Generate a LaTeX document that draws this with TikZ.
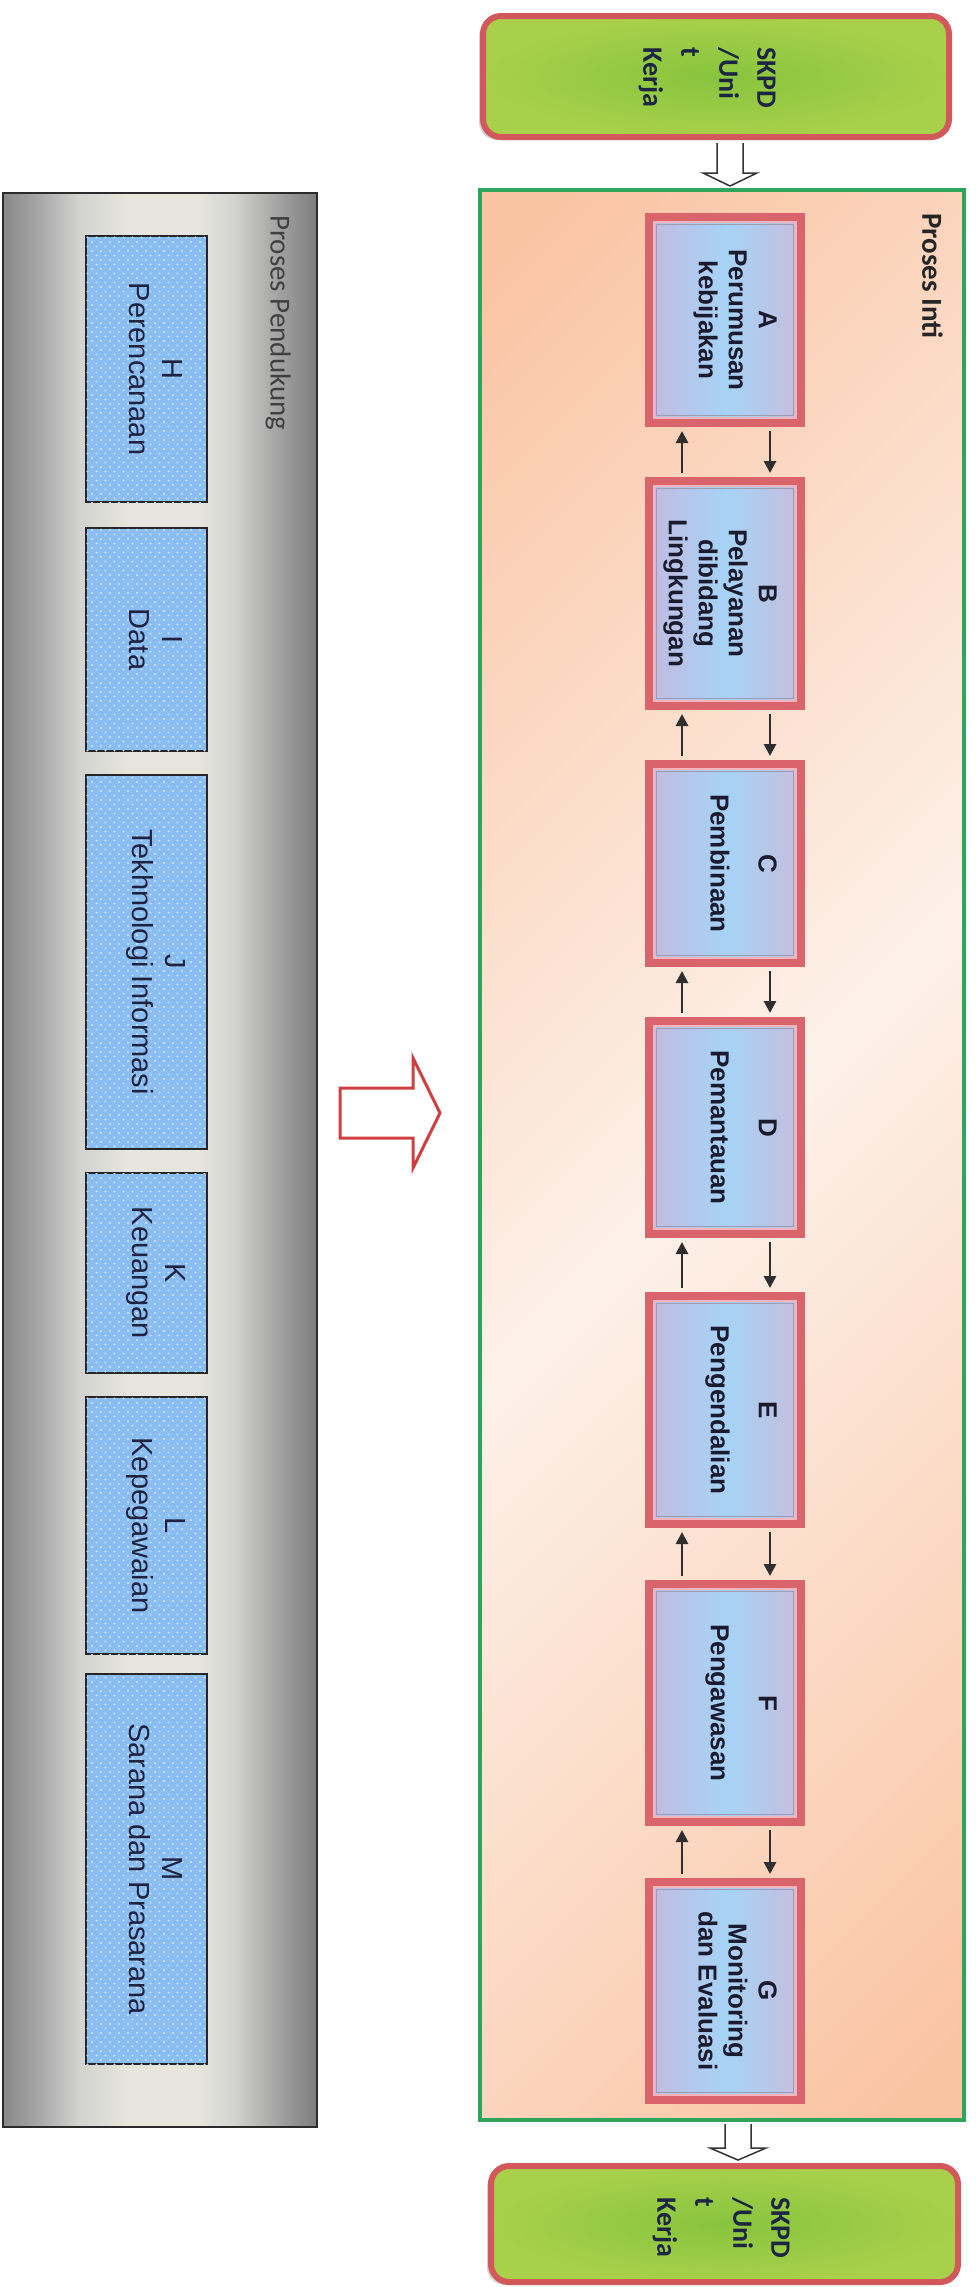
\documentclass[tikz,border=0pt]{standalone}
\usepackage{fontspec}
\setmainfont{Liberation Sans}
\newfontfamily\carlito{Carlito}
\usetikzlibrary{arrows.meta,calc,patterns,shadows}

\definecolor{boxred}{HTML}{D9646C}
\definecolor{pinkline}{HTML}{F2B5BE}
\definecolor{grayline}{HTML}{9C9DB5}
\definecolor{lavL}{HTML}{C4BAE0}
\definecolor{lavR}{HTML}{C5BEDD}
\definecolor{lblue}{HTML}{A6D3F6}
\definecolor{txtdark}{HTML}{1B1B2F}
\definecolor{arrowgray}{HTML}{2E2E2E}
\definecolor{pigreen}{HTML}{2EA55A}
\definecolor{peA}{HTML}{FAC4A3}
\definecolor{peB}{HTML}{FDF1E9}
\definecolor{skpdred}{HTML}{D2585C}
\definecolor{skpdin}{HTML}{88C43E}
\definecolor{skpdout}{HTML}{A8D04A}
\definecolor{navy}{HTML}{1C2541}
\definecolor{supblue}{HTML}{8ABDF2}
\definecolor{dotblue}{HTML}{C6E0FA}
\definecolor{suptxt}{HTML}{1F2340}
\definecolor{panelborder}{HTML}{2B2B2B}
\definecolor{mA}{HTML}{888888}
\definecolor{mB}{HTML}{A9A9A9}
\definecolor{mC}{HTML}{D2D2D0}
\definecolor{mD}{HTML}{E6E6DE}
\definecolor{mE}{HTML}{A8A8A8}
\definecolor{mF}{HTML}{7C7C7C}
\definecolor{bigred}{HTML}{CF3F3F}

\pgfdeclarehorizontalshading{metal}{100bp}{color(0bp)=(mA); color(25bp)=(mA); color(31bp)=(mB); color(37bp)=(mC); color(45bp)=(mD); color(56bp)=(mD); color(62bp)=(mC); color(68bp)=(mE); color(75bp)=(mF); color(100bp)=(mF)}
\pgfdeclarehorizontalshading{pishade}{100bp}{color(0bp)=(peA); color(17bp)=(peA); color(50bp)=(peB); color(83bp)=(peA); color(100bp)=(peA)}
\pgfdeclarepatternformonly{wdots}{\pgfqpoint{-1pt}{-1pt}}{\pgfqpoint{10pt}{10pt}}{\pgfqpoint{9pt}{9pt}}{%
  \pgfpathcircle{\pgfqpoint{2pt}{2pt}}{1.4pt}%
  \pgfpathcircle{\pgfqpoint{6.5pt}{6.5pt}}{1.1pt}%
  \pgfusepath{fill}}

\begin{document}
\begin{tikzpicture}[x=1pt,y=-1pt,
  conn/.style={draw=arrowgray, line width=2.8pt, -{Triangle[width=12pt,length=12pt]}, shorten <=4pt, shorten >=4pt},
  pibox/.style={draw=boxred, line width=8pt, left color=lavL, right color=lavR, middle color=lblue,
    minimum width=152pt, inner sep=0pt,
    path picture={
      \draw[draw=pinkline, line width=2pt] ([shift={(5pt,5pt)}]path picture bounding box.south west) rectangle ([shift={(-5pt,-5pt)}]path picture bounding box.north east);
      \draw[draw=grayline, line width=1.3pt] ([shift={(7.3pt,7.3pt)}]path picture bounding box.south west) rectangle ([shift={(-7.3pt,-7.3pt)}]path picture bounding box.north east);
    }},
  pitext/.style={rotate=-90, anchor=north, inner sep=0pt, align=center, text=txtdark, font=\fontsize{26pt}{30pt}\selectfont\bfseries},
  supbox/.style={draw=black!85, line width=2pt, fill=supblue, minimum width=121pt, inner sep=0pt, postaction={pattern=wdots, pattern color=dotblue}},
  suptext/.style={rotate=-90, inner sep=0pt, align=center, text=suptxt, font=\fontsize{29pt}{33pt}\selectfont},
  skpd/.style={draw=skpdred, line width=6pt, rounded corners=18pt, inner color=skpdin, outer color=skpdout,
    drop shadow={shadow xshift=-4pt, shadow yshift=-3pt, opacity=0.35}},
  skpdtext/.style={rotate=-90, anchor=north west, inner sep=0pt, align=left, text=navy, font=\carlito\bfseries\fontsize{28pt}{38pt}\selectfont},
  hollow/.style={draw=black!80, line width=1.5pt, fill=white, line join=miter}
]
\useasboundingbox (0,0) rectangle (976,2287);
\fill[white] (0,0) rectangle (976,2287);

% ---------- support panel ----------
\node[draw=panelborder, line width=2pt, shading=metal, minimum width=314pt, minimum height=1934pt, inner sep=0pt] (pp) at (160,1160) {};
\node[rotate=-90, anchor=north west, inner sep=0pt, text=black!75, font=\carlito\fontsize{29pt}{33pt}\selectfont] (pplabel) at (291,215) {Proses Pendukung};

\node[supbox, minimum height=266pt] (H) at (146.5,369) {};
\node[supbox, minimum height=223pt] (I) at (146.5,639.5) {};
\node[supbox, minimum height=374pt] (J) at (146.5,962) {};
\node[supbox, minimum height=200pt] (K) at (146.5,1273) {};
\node[supbox, minimum height=257pt] (L) at (146.5,1525.5) {};
\node[supbox, minimum height=390pt] (M) at (146.5,1869) {};
\node[suptext] (Ht) at ([xshift=9pt]H.center) {H\\Perencanaan};
\node[suptext] (It) at ([xshift=9pt]I.center) {I\\Data};
\node[suptext] (Jt) at ([xshift=9pt]J.center) {J\\Tekhnologi Informasi};
\node[suptext] (Kt) at ([xshift=9pt]K.center) {K\\Keuangan};
\node[suptext] (Lt) at ([xshift=9pt]L.center) {L\\Kepegawaian};
\node[suptext] (Mt) at ([xshift=9pt]M.center) {M\\Sarana dan Prasarana};

% ---------- big red arrow ----------
\draw[draw=bigred, line width=3pt, fill=white, line join=miter]
  (340,1088) -- (413,1088) -- (413,1058) -- (440,1113) -- (413,1168) -- (413,1138) -- (340,1138) -- cycle;

% ---------- core process ----------
\node[draw=pigreen, line width=4pt, shading=pishade, shading angle=-45, minimum width=484pt, minimum height=1930pt, inner sep=0pt] (pi) at (722,1155) {};
\node[rotate=-90, anchor=north west, inner sep=0pt, text=black!85, font=\carlito\bfseries\fontsize{29pt}{33pt}\selectfont] (pilabel) at (943,213) {Proses Inti};

\node[pibox, minimum height=206pt] (A) at (725,320) {};
\node[pibox, minimum height=225pt] (B) at (725,593.5) {};
\node[pibox, minimum height=199pt] (C) at (725,863.5) {};
\node[pibox, minimum height=213pt] (D) at (725,1127.5) {};
\node[pibox, minimum height=228pt] (E) at (725,1410) {};
\node[pibox, minimum height=238pt] (F) at (725,1703) {};
\node[pibox, minimum height=218pt] (G) at (725,1991) {};

\node[pitext] (At) at (777,320) {A\\Perumusan\\kebijakan};
\node[pitext] (Bt) at (777,593.5) {B\\Pelayanan\\dibidang\\Lingkungan};
\node[pitext] (Ct) at (777,863.5) {C\\[18pt]Pembinaan};
\node[pitext] (Dt) at (777,1127.5) {D\\[18pt]Pemantauan};
\node[pitext] (Et) at (777,1410) {E\\[18pt]Pengendalian};
\node[pitext] (Ft) at (777,1703) {F\\[18pt]Pengawasan};
\node[pitext] (Gt) at (777,1991) {G\\Monitoring\\dan Evaluasi};

\foreach \u/\l in {A/B,B/C,C/D,D/E,E/F,F/G} {
  \draw[conn] ([xshift=45pt]\u.south) -- ([xshift=45pt]\l.north);
  \draw[conn] ([xshift=-43pt]\l.north) -- ([xshift=-43pt]\u.south);
}

% ---------- SKPD boxes ----------
\node[skpd, minimum width=466pt, minimum height=121pt, inner sep=0pt] (s1) at (716,76.5) {};
\node[skpdtext] (s1t) at (776,47) {SKPD\\/Uni\\t\\Kerja};
\node[skpd, minimum width=467pt, minimum height=116pt, inner sep=0pt] (s2) at (724.5,2224) {};
\node[skpdtext] (s2t) at (790,2197) {SKPD\\/Uni\\t\\Kerja};

% ---------- hollow arrows ----------
\coordinate (ta) at ([xshift=14pt,yshift=-3pt]s1.south);
\coordinate (tb) at ($(ta |- pi.north)+(0pt,2pt)$);
\draw[hollow] ($(ta)+(-13pt,0pt)$) -- ($(tb)+(-13pt,13pt)$) -- ($(tb)+(-27pt,13pt)$) -- (tb)
  -- ($(tb)+(27pt,13pt)$) -- ($(tb)+(13pt,13pt)$) -- ($(ta)+(13pt,0pt)$);

\coordinate (bb) at ([xshift=13.5pt,yshift=3pt]s2.north);
\coordinate (ba) at ($(bb |- pi.south)+(0pt,-2pt)$);
\draw[hollow] ($(ba)+(-13pt,0pt)$) -- ($(bb)+(-13pt,12pt)$) -- ($(bb)+(-28pt,12pt)$) -- (bb)
  -- ($(bb)+(28pt,12pt)$) -- ($(bb)+(13pt,12pt)$) -- ($(ba)+(13pt,0pt)$);
\end{tikzpicture}
\end{document}
